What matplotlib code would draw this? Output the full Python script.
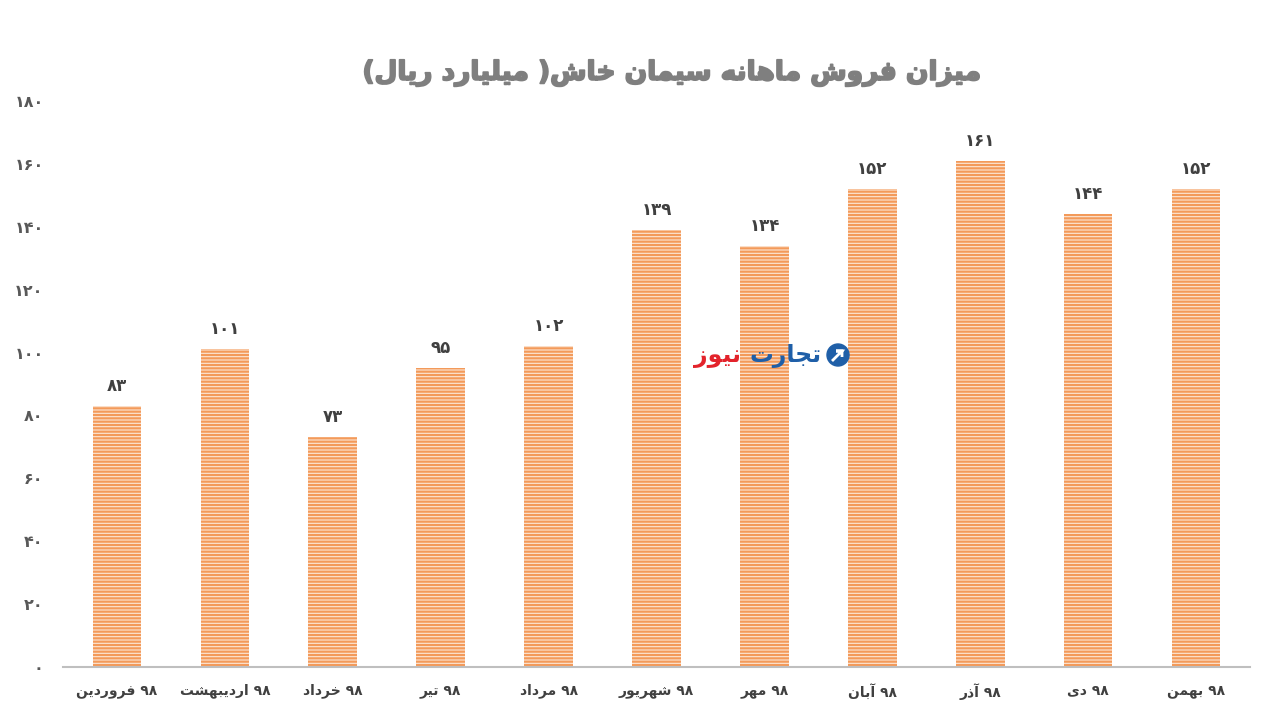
import re
import matplotlib
matplotlib.use('Agg')
import matplotlib.pyplot as plt
import matplotlib.patheffects as pe
from matplotlib.patches import Circle, Polygon

# ---------------- data ----------------
months = ['فروردین', 'اردیبهشت', 'خرداد', 'تیر', 'مرداد', 'شهریور',
          'مهر', 'آبان', 'آذر', 'دی', 'بهمن']
year = '98'
sales = [83, 101, 73, 95, 102, 139, 134, 152, 161, 144, 152]
yticks = [0, 20, 40, 60, 80, 100, 120, 140, 160, 180]
title = 'میزان فروش ماهانه سیمان خاش( میلیارد ریال)'
brand_a = 'تجارت'
brand_b = 'نیوز'

# ---------------- minimal Arabic/Persian shaping ----------------
FORMS = {
    '\u0627': ('\uFE8D', '\uFE8E'),
    '\u0622': ('\uFE81', '\uFE82'),
    '\u0628': ('\uFE8F', '\uFE90', '\uFE91', '\uFE92'),
    '\u062A': ('\uFE95', '\uFE96', '\uFE97', '\uFE98'),
    '\u062C': ('\uFE9D', '\uFE9E', '\uFE9F', '\uFEA0'),
    '\u062E': ('\uFEA5', '\uFEA6', '\uFEA7', '\uFEA8'),
    '\u062F': ('\uFEA9', '\uFEAA'),
    '\u0630': ('\uFEAB', '\uFEAC'),
    '\u0631': ('\uFEAD', '\uFEAE'),
    '\u0632': ('\uFEAF', '\uFEB0'),
    '\u0633': ('\uFEB1', '\uFEB2', '\uFEB3', '\uFEB4'),
    '\u0634': ('\uFEB5', '\uFEB6', '\uFEB7', '\uFEB8'),
    '\u0641': ('\uFED1', '\uFED2', '\uFED3', '\uFED4'),
    '\u0644': ('\uFEDD', '\uFEDE', '\uFEDF', '\uFEE0'),
    '\u0645': ('\uFEE1', '\uFEE2', '\uFEE3', '\uFEE4'),
    '\u0646': ('\uFEE5', '\uFEE6', '\uFEE7', '\uFEE8'),
    '\u0647': ('\uFEE9', '\uFEEA', '\uFEEB', '\uFEEC'),
    '\u0648': ('\uFEED', '\uFEEE'),
    '\u06CC': ('\uFEEF', '\uFEF0', '\uFEF3', '\uFEF4'),
    '\u064A': ('\uFEEF', '\uFEF0', '\uFEF3', '\uFEF4'),
}
MIRROR = {'(': ')', ')': '('}
FA = str.maketrans('0123456789', '۰۱۲۳۴۵۶۷۸۹')


def shape(s):
    out = []
    for i, c in enumerate(s):
        f = FORMS.get(c)
        if not f:
            out.append(c)
            continue
        prev = s[i - 1] if i > 0 else ''
        nxt = s[i + 1] if i < len(s) - 1 else ''
        jp = prev in FORMS and len(FORMS[prev]) == 4
        jn = len(f) == 4 and nxt in FORMS
        if jp and jn:
            out.append(f[3])
        elif jp:
            out.append(f[1])
        elif jn:
            out.append(f[2])
        else:
            out.append(f[0])
    return ''.join(out)


def rtl(s):
    s = shape(s.translate(FA))
    runs = re.findall(r'[0-9\u06F0-\u06F9]+|[^0-9\u06F0-\u06F9]+', s)
    res = []
    for r in reversed(runs):
        if r[0].isdigit():
            res.append(r)
        else:
            res.append(''.join(MIRROR.get(c, c) for c in reversed(r)))
    return ''.join(res)


plt.rcParams['font.family'] = ['DejaVu Sans']
plt.rcParams['hatch.linewidth'] = 1.6

fig = plt.figure(figsize=(12.8, 7.2), dpi=100)
ax = fig.add_axes([63 / 1280, 1 - 667 / 720, (1250 - 63) / 1280, (667 - 101) / 720])

x = list(range(len(months)))
ax.bar(x, sales, width=0.45, color='#FDE7D6', edgecolor='#F39A5A',
       hatch='-----', linewidth=0, zorder=2)

for xi, v in zip(x, sales):
    ax.text(xi, v + 3.5, str(v).translate(FA), ha='center', va='bottom',
            fontsize=12, fontweight='bold', color='#404040')

ax.set_xlim(-0.5, len(months) - 0.5)
ax.set_ylim(0, 180)
ax.set_yticks(yticks)
ax.set_yticklabels([str(t).translate(FA) for t in yticks], fontsize=11.5,
                   fontweight='bold', color='#595959')
ax.set_xticks(x)
ax.set_xticklabels([rtl(m) + ' ' + year.translate(FA) for m in months],
                   fontsize=10, fontweight='bold', color='#404040')
ax.tick_params(axis='y', length=0, pad=14)
ax.tick_params(axis='x', length=0, pad=12)
for s in ['top', 'right', 'left']:
    ax.spines[s].set_visible(False)
ax.spines['bottom'].set_color('#BFBFBF')
ax.spines['bottom'].set_linewidth(1.5)

fig.text(672 / 1280, 1 - 73 / 720, rtl(title), ha='center', va='center',
         fontsize=19, fontweight='bold', color='#7F7F7F',
         path_effects=[pe.withStroke(linewidth=1.3, foreground='#7F7F7F')])

# watermark
fig.text(822 / 1280, 1 - 356 / 720, rtl(brand_a), ha='right', va='center',
         fontsize=17, fontweight='bold', color='#1F5FA8', zorder=5)
fig.text(741 / 1280, 1 - 356 / 720, rtl(brand_b), ha='right', va='center',
         fontsize=17, fontweight='bold', color='#E3232B', zorder=5)
circ = Circle((838, 720 - 355), 11, transform=None, color='#1F5FA8', zorder=6)
fig.patches.append(circ)
arrow = Polygon([(832, 720 - 361), (842, 720 - 351), (836, 720 - 351),
                 (842, 720 - 351), (842, 720 - 357)], closed=False,
                transform=None, fill=False, edgecolor='white', linewidth=2, zorder=7)
fig.patches.append(arrow)

fig.savefig('out.png', dpi=100)
